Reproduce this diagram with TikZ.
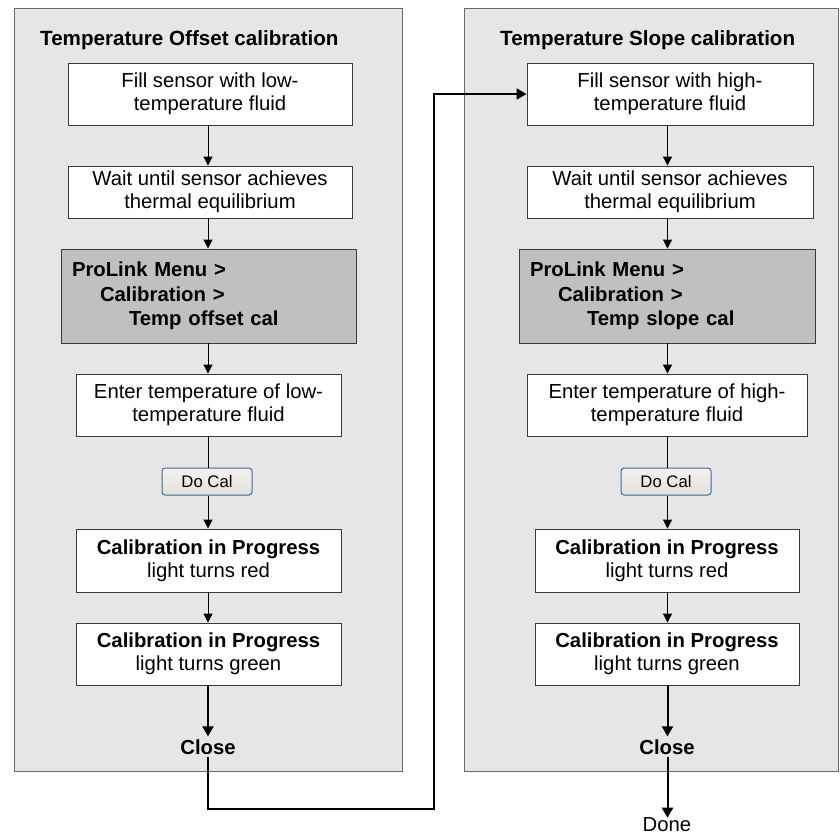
\documentclass[tikz,border=0pt]{standalone}
\usepackage{fontspec}
\setmainfont{Liberation Sans}
\usetikzlibrary{arrows.meta}
\definecolor{panelfill}{HTML}{E6E6E6}
\definecolor{panelline}{HTML}{6A6A6A}
\definecolor{menufill}{HTML}{C0C0C0}
\definecolor{boxline}{HTML}{3A3A3A}
\definecolor{btnline}{HTML}{3C6A9C}
\definecolor{btntop}{HTML}{F4F3EF}
\definecolor{btnbottom}{HTML}{E2E0D8}
\tikzset{
  panel/.style={draw=panelline, fill=panelfill, line width=1pt},
  stepbox/.style={draw=boxline, fill=white, line width=0.9pt, align=center, inner sep=0pt,
    font=\fontsize{20.3}{23}\selectfont},
  menubox/.style={draw=boxline, fill=menufill, line width=0.9pt, align=left, inner xsep=11pt, inner ysep=0pt,
    font=\fontsize{20.3}{24.5}\selectfont\bfseries},
  btn/.style={draw=btnline, top color=btntop, bottom color=btnbottom, line width=1pt, rounded corners=3pt, inner sep=0pt,
    minimum width=90pt, minimum height=27pt, font=\fontsize{16.7}{19}\selectfont},
  title/.style={font=\fontsize{20.6}{23}\selectfont\bfseries, anchor=west, inner sep=0pt},
  plain/.style={font=\fontsize{20.3}{23}\selectfont, inner sep=2pt},
  arr/.style={draw=black, line width=1pt, -{Triangle[length=9pt,width=9pt]}},
  thickarr/.style={draw=black, line width=2pt, -{Triangle[length=10pt,width=11pt]}},
  thickline/.style={draw=black, line width=2pt},
}
\begin{document}
\begin{tikzpicture}[x=1pt,y=-1pt]
\useasboundingbox (0,0) rectangle (840,835);
% panels
\fill[white] (0,0) rectangle (840,835);
\draw[panel] (14,8) rectangle (402,771);
\draw[panel] (464,8) rectangle (838,771);
\node[title] (t1) at (40,40) {Temperature Offset calibration};
\node[title] (t2) at (500,40) {Temperature Slope calibration};

% left column
\node[stepbox, minimum width=284pt, minimum height=62pt] (a1) at (210,94) {Fill sensor with low-\\temperature fluid};
\node[stepbox, minimum width=284pt, minimum height=52pt] (a2) at (210,192) {Wait until sensor achieves\\thermal equilibrium};
\node[menubox, text width=273pt, minimum height=94pt] (a3) at (208.5,296) {ProLink Menu >\\\hspace*{28pt}Calibration >\\\hspace*{57pt}Temp offset cal};
\node[stepbox, minimum width=265pt, minimum height=62pt] (a4) at (208.5,405) {Enter temperature of low-\\temperature fluid};
\node[btn] (a5) at (207,481.5) {Do Cal};
\node[stepbox, minimum width=265pt, minimum height=63pt] (a6) at (208.5,560.5) {\textbf{Calibration in Progress}\\light turns red};
\node[stepbox, minimum width=265pt, minimum height=62pt] (a7) at (208.5,654) {\textbf{Calibration in Progress}\\light turns green};
\node[plain, font=\fontsize{20.3}{23}\selectfont\bfseries] (a8) at (208,747) {Close};
\coordinate (ca) at (208,0);

% right column
\node[stepbox, minimum width=286pt, minimum height=62pt] (b1) at (670,94) {Fill sensor with high-\\temperature fluid};
\node[stepbox, minimum width=286pt, minimum height=52pt] (b2) at (670,192) {Wait until sensor achieves\\thermal equilibrium};
\node[menubox, text width=274pt, minimum height=94pt] (b3) at (667,296) {ProLink Menu >\\\hspace*{28pt}Calibration >\\\hspace*{57pt}Temp slope cal};
\node[stepbox, minimum width=280pt, minimum height=62pt] (b4) at (667,405) {Enter temperature of high-\\temperature fluid};
\node[btn] (b5) at (666,481.5) {Do Cal};
\node[stepbox, minimum width=264pt, minimum height=63pt] (b6) at (667,560.5) {\textbf{Calibration in Progress}\\light turns red};
\node[stepbox, minimum width=264pt, minimum height=62pt] (b7) at (667,654) {\textbf{Calibration in Progress}\\light turns green};
\node[plain, font=\fontsize{20.3}{23}\selectfont\bfseries] (b8) at (667,747) {Close};
\node[plain] (done) at (667,825) {Done};
\coordinate (cb) at (667.5,0);

% left arrows
\draw[arr] (a1.south -| ca) -- (a2.north -| ca);
\draw[arr] (a2.south -| ca) -- (a3.north -| ca);
\draw[arr] (a3.south -| ca) -- (a4.north -| ca);
\draw[line width=1pt] (a4.south -| ca) -- (a5.north -| ca);
\draw[arr] (a5.south -| ca) -- (a6.north -| ca);
\draw[arr] (a6.south -| ca) -- (a7.north -| ca);
\draw[thickarr] (a7.south -| ca) -- ([yshift=1pt]a8.north -| ca);

% right arrows
\draw[arr] (b1.south -| cb) -- (b2.north -| cb);
\draw[arr] (b2.south -| cb) -- (b3.north -| cb);
\draw[arr] (b3.south -| cb) -- (b4.north -| cb);
\draw[line width=1pt] (b4.south -| cb) -- (b5.north -| cb);
\draw[arr] (b5.south -| cb) -- (b6.north -| cb);
\draw[arr] (b6.south -| cb) -- (b7.north -| cb);
\draw[thickarr] (b7.south -| cb) -- ([yshift=1pt]b8.north -| cb);
\draw[thickarr] (b8.south -| cb) -- ([yshift=-2pt]done.north -| cb);

% connector between panels
\coordinate (j1) at (208,809);
\coordinate (j2) at (434,809);
\coordinate (j3) at (434,94);
\draw[thickline, -{Triangle[length=10pt,width=11pt]}] (a8.south -| ca) -- (j1) -- (j2) -- (j3) -- (b1.west |- j3);
\end{tikzpicture}
\end{document}
